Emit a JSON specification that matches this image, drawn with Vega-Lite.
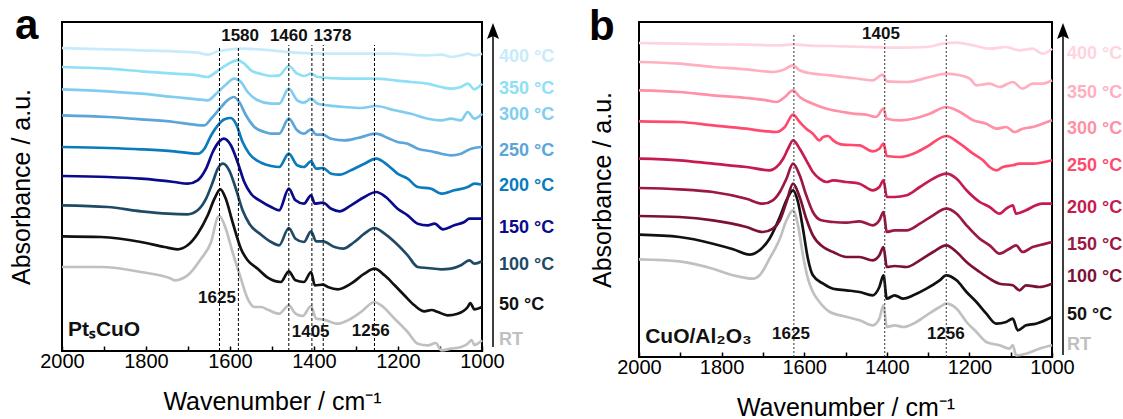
{
"$schema": "https://vega.github.io/schema/vega-lite/v6.json",
"padding": {"left": 8, "top": 4, "right": 0, "bottom": 0},
"spacing": 32,
"config": {"font": "Liberation Sans", "view": {"stroke": "black", "strokeWidth": 2}, "axis": {"grid": false, "domain": false, "labelFontSize": 20, "labelColor": "black", "titleFontSize": 25, "titleFontWeight": "normal", "titleColor": "black", "tickColor": "black", "tickWidth": 1.5}},
"resolve": {"scale": {"color": "independent", "x": "independent", "y": "independent"}},
"datasets": {
"ca": [
{"s":"RT","w":2000,"v":84},{"s":"RT","w":1907,"v":84},{"s":"RT","w":1812,"v":79},{"s":"RT","w":1740,"v":72.3},{"s":"RT","w":1733,"v":70.7},{"s":"RT","w":1701,"v":75.7},{"s":"RT","w":1669,"v":92.3},{"s":"RT","w":1645,"v":109},{"s":"RT","w":1629,"v":134},{"s":"RT","w":1625,"v":135},{"s":"RT","w":1610,"v":122.3},{"s":"RT","w":1594,"v":99},{"s":"RT","w":1574,"v":72.3},{"s":"RT","w":1558,"v":52.3},{"s":"RT","w":1542,"v":44},{"s":"RT","w":1526,"v":44},{"s":"RT","w":1510,"v":41.3},{"s":"RT","w":1483,"v":37.3},{"s":"RT","w":1460,"v":45.7},{"s":"RT","w":1444,"v":37.3},{"s":"RT","w":1427,"v":35},{"s":"RT","w":1407,"v":45},{"s":"RT","w":1395,"v":32.3},{"s":"RT","w":1379,"v":31.7},{"s":"RT","w":1343,"v":27.3},{"s":"RT","w":1312,"v":32.3},{"s":"RT","w":1288,"v":39},{"s":"RT","w":1256,"v":49},{"s":"RT","w":1240,"v":45.7},{"s":"RT","w":1208,"v":32.3},{"s":"RT","w":1177,"v":19},{"s":"RT","w":1153,"v":7.3},{"s":"RT","w":1129,"v":5.7},{"s":"RT","w":1110,"v":8},{"s":"RT","w":1097,"v":0.7},{"s":"RT","w":1074,"v":2.3},{"s":"RT","w":1050,"v":4},{"s":"RT","w":1034,"v":7.3},{"s":"RT","w":1025,"v":11},{"s":"RT","w":1018,"v":6},{"s":"RT","w":1000,"v":10.7},
{"s":"50 °C","w":2000,"v":114.7},{"s":"50 °C","w":1907,"v":114},{"s":"50 °C","w":1812,"v":109},{"s":"50 °C","w":1756,"v":104},{"s":"50 °C","w":1725,"v":101.7},{"s":"50 °C","w":1701,"v":105.7},{"s":"50 °C","w":1677,"v":117.3},{"s":"50 °C","w":1653,"v":135.7},{"s":"50 °C","w":1637,"v":152.3},{"s":"50 °C","w":1623,"v":161.7},{"s":"50 °C","w":1610,"v":152.3},{"s":"50 °C","w":1594,"v":129},{"s":"50 °C","w":1574,"v":102.3},{"s":"50 °C","w":1558,"v":90.7},{"s":"50 °C","w":1534,"v":82.3},{"s":"50 °C","w":1510,"v":73.3},{"s":"50 °C","w":1479,"v":69},{"s":"50 °C","w":1460,"v":79.7},{"s":"50 °C","w":1444,"v":70.7},{"s":"50 °C","w":1424,"v":69},{"s":"50 °C","w":1407,"v":79},{"s":"50 °C","w":1398,"v":65.7},{"s":"50 °C","w":1379,"v":66.3},{"s":"50 °C","w":1367,"v":64},{"s":"50 °C","w":1343,"v":61.7},{"s":"50 °C","w":1312,"v":67.3},{"s":"50 °C","w":1280,"v":77.3},{"s":"50 °C","w":1256,"v":82.3},{"s":"50 °C","w":1232,"v":75.7},{"s":"50 °C","w":1208,"v":65.7},{"s":"50 °C","w":1185,"v":55.7},{"s":"50 °C","w":1161,"v":45.7},{"s":"50 °C","w":1137,"v":39.7},{"s":"50 °C","w":1120,"v":41},{"s":"50 °C","w":1105,"v":39},{"s":"50 °C","w":1082,"v":35.7},{"s":"50 °C","w":1058,"v":37.3},{"s":"50 °C","w":1034,"v":44},{"s":"50 °C","w":1028,"v":48},{"s":"50 °C","w":1018,"v":41.7},{"s":"50 °C","w":1000,"v":44},
{"s":"100 °C","w":2000,"v":145.7},{"s":"100 °C","w":1891,"v":144},{"s":"100 °C","w":1812,"v":139.7},{"s":"100 °C","w":1748,"v":137.3},{"s":"100 °C","w":1701,"v":136.7},{"s":"100 °C","w":1677,"v":140.7},{"s":"100 °C","w":1657,"v":152.3},{"s":"100 °C","w":1641,"v":169},{"s":"100 °C","w":1629,"v":182.3},{"s":"100 °C","w":1617,"v":187.3},{"s":"100 °C","w":1602,"v":180.7},{"s":"100 °C","w":1586,"v":162.3},{"s":"100 °C","w":1570,"v":140.7},{"s":"100 °C","w":1554,"v":127.3},{"s":"100 °C","w":1526,"v":116.3},{"s":"100 °C","w":1502,"v":109},{"s":"100 °C","w":1483,"v":105.7},{"s":"100 °C","w":1460,"v":123},{"s":"100 °C","w":1444,"v":112.3},{"s":"100 °C","w":1424,"v":109},{"s":"100 °C","w":1407,"v":119.7},{"s":"100 °C","w":1395,"v":109.7},{"s":"100 °C","w":1379,"v":109.7},{"s":"100 °C","w":1351,"v":104},{"s":"100 °C","w":1331,"v":102.3},{"s":"100 °C","w":1304,"v":109},{"s":"100 °C","w":1280,"v":117.3},{"s":"100 °C","w":1256,"v":123},{"s":"100 °C","w":1232,"v":117.3},{"s":"100 °C","w":1208,"v":109},{"s":"100 °C","w":1177,"v":95.7},{"s":"100 °C","w":1153,"v":84},{"s":"100 °C","w":1129,"v":83},{"s":"100 °C","w":1097,"v":81.7},{"s":"100 °C","w":1074,"v":82.3},{"s":"100 °C","w":1050,"v":85.7},{"s":"100 °C","w":1030,"v":90.7},{"s":"100 °C","w":1018,"v":87.3},{"s":"100 °C","w":1000,"v":89.7},
{"s":"150 °C","w":2000,"v":175},{"s":"150 °C","w":1891,"v":174},{"s":"150 °C","w":1812,"v":172.3},{"s":"150 °C","w":1733,"v":169},{"s":"150 °C","w":1701,"v":167.3},{"s":"150 °C","w":1677,"v":170.7},{"s":"150 °C","w":1657,"v":182.3},{"s":"150 °C","w":1641,"v":199},{"s":"150 °C","w":1625,"v":209.7},{"s":"150 °C","w":1615,"v":212.3},{"s":"150 °C","w":1598,"v":205.7},{"s":"150 °C","w":1582,"v":189},{"s":"150 °C","w":1566,"v":169},{"s":"150 °C","w":1550,"v":157.3},{"s":"150 °C","w":1526,"v":149.7},{"s":"150 °C","w":1502,"v":144},{"s":"150 °C","w":1483,"v":140.7},{"s":"150 °C","w":1460,"v":162.3},{"s":"150 °C","w":1444,"v":150.7},{"s":"150 °C","w":1424,"v":147.3},{"s":"150 °C","w":1407,"v":155.7},{"s":"150 °C","w":1398,"v":147.3},{"s":"150 °C","w":1379,"v":148.3},{"s":"150 °C","w":1359,"v":142.3},{"s":"150 °C","w":1339,"v":139.7},{"s":"150 °C","w":1312,"v":145.7},{"s":"150 °C","w":1280,"v":154},{"s":"150 °C","w":1252,"v":159},{"s":"150 °C","w":1229,"v":154},{"s":"150 °C","w":1201,"v":142.3},{"s":"150 °C","w":1177,"v":135.7},{"s":"150 °C","w":1153,"v":127.3},{"s":"150 °C","w":1129,"v":125.7},{"s":"150 °C","w":1113,"v":127.3},{"s":"150 °C","w":1093,"v":121.7},{"s":"150 °C","w":1066,"v":125.7},{"s":"150 °C","w":1042,"v":129},{"s":"150 °C","w":1030,"v":132.3},{"s":"150 °C","w":1000,"v":132.3},
{"s":"200 °C","w":2000,"v":204},{"s":"200 °C","w":1891,"v":203},{"s":"200 °C","w":1812,"v":201.7},{"s":"200 °C","w":1733,"v":199.7},{"s":"200 °C","w":1677,"v":197.3},{"s":"200 °C","w":1661,"v":202.3},{"s":"200 °C","w":1645,"v":215.7},{"s":"200 °C","w":1629,"v":225.7},{"s":"200 °C","w":1613,"v":231.7},{"s":"200 °C","w":1598,"v":233},{"s":"200 °C","w":1586,"v":227.3},{"s":"200 °C","w":1570,"v":209},{"s":"200 °C","w":1554,"v":197.3},{"s":"200 °C","w":1526,"v":188.3},{"s":"200 °C","w":1502,"v":185},{"s":"200 °C","w":1483,"v":184},{"s":"200 °C","w":1460,"v":197.3},{"s":"200 °C","w":1440,"v":185.7},{"s":"200 °C","w":1424,"v":184},{"s":"200 °C","w":1407,"v":189.7},{"s":"200 °C","w":1395,"v":182.3},{"s":"200 °C","w":1379,"v":183},{"s":"200 °C","w":1359,"v":177.3},{"s":"200 °C","w":1339,"v":176.3},{"s":"200 °C","w":1312,"v":180.7},{"s":"200 °C","w":1280,"v":187.3},{"s":"200 °C","w":1252,"v":192.3},{"s":"200 °C","w":1224,"v":185.7},{"s":"200 °C","w":1201,"v":177.3},{"s":"200 °C","w":1177,"v":172.3},{"s":"200 °C","w":1153,"v":164},{"s":"200 °C","w":1121,"v":162.3},{"s":"200 °C","w":1097,"v":157.3},{"s":"200 °C","w":1066,"v":160.7},{"s":"200 °C","w":1034,"v":164},{"s":"200 °C","w":1018,"v":167.3},{"s":"200 °C","w":1000,"v":166.3},
{"s":"250 °C","w":2000,"v":235.7},{"s":"250 °C","w":1891,"v":234},{"s":"250 °C","w":1812,"v":231.7},{"s":"250 °C","w":1733,"v":229},{"s":"250 °C","w":1685,"v":226.3},{"s":"250 °C","w":1661,"v":225.7},{"s":"250 °C","w":1645,"v":232.3},{"s":"250 °C","w":1621,"v":244},{"s":"250 °C","w":1606,"v":250.7},{"s":"250 °C","w":1591,"v":254},{"s":"250 °C","w":1578,"v":249},{"s":"250 °C","w":1562,"v":235.7},{"s":"250 °C","w":1542,"v":224},{"s":"250 °C","w":1518,"v":219},{"s":"250 °C","w":1502,"v":217.3},{"s":"250 °C","w":1483,"v":217.3},{"s":"250 °C","w":1460,"v":232.3},{"s":"250 °C","w":1440,"v":220.7},{"s":"250 °C","w":1424,"v":217.3},{"s":"250 °C","w":1407,"v":221.7},{"s":"250 °C","w":1395,"v":216.3},{"s":"250 °C","w":1379,"v":216.3},{"s":"250 °C","w":1359,"v":212.3},{"s":"250 °C","w":1327,"v":210.7},{"s":"250 °C","w":1296,"v":213},{"s":"250 °C","w":1252,"v":217.3},{"s":"250 °C","w":1224,"v":213},{"s":"250 °C","w":1201,"v":209},{"s":"250 °C","w":1177,"v":207.3},{"s":"250 °C","w":1153,"v":202.3},{"s":"250 °C","w":1121,"v":199.7},{"s":"250 °C","w":1097,"v":197.3},{"s":"250 °C","w":1074,"v":195.7},{"s":"250 °C","w":1050,"v":197.3},{"s":"250 °C","w":1026,"v":202.3},{"s":"250 °C","w":1000,"v":204},
{"s":"300 °C","w":2000,"v":261.7},{"s":"300 °C","w":1891,"v":259.7},{"s":"300 °C","w":1812,"v":257.3},{"s":"300 °C","w":1733,"v":254},{"s":"300 °C","w":1677,"v":251.7},{"s":"300 °C","w":1653,"v":250.7},{"s":"300 °C","w":1633,"v":257.3},{"s":"300 °C","w":1610,"v":266.3},{"s":"300 °C","w":1590,"v":272.3},{"s":"300 °C","w":1574,"v":269},{"s":"300 °C","w":1558,"v":259},{"s":"300 °C","w":1534,"v":250.7},{"s":"300 °C","w":1502,"v":247.3},{"s":"300 °C","w":1483,"v":247.3},{"s":"300 °C","w":1460,"v":262.3},{"s":"300 °C","w":1440,"v":250.7},{"s":"300 °C","w":1424,"v":248.3},{"s":"300 °C","w":1407,"v":252.3},{"s":"300 °C","w":1391,"v":247.3},{"s":"300 °C","w":1367,"v":245.7},{"s":"300 °C","w":1327,"v":244},{"s":"300 °C","w":1288,"v":243},{"s":"300 °C","w":1252,"v":245},{"s":"300 °C","w":1208,"v":240.7},{"s":"300 °C","w":1169,"v":237.3},{"s":"300 °C","w":1129,"v":232.3},{"s":"300 °C","w":1097,"v":230.7},{"s":"300 °C","w":1074,"v":232.3},{"s":"300 °C","w":1050,"v":230.7},{"s":"300 °C","w":1034,"v":239},{"s":"300 °C","w":1018,"v":232.3},{"s":"300 °C","w":1000,"v":237.3},
{"s":"350 °C","w":2000,"v":284},{"s":"350 °C","w":1891,"v":282.3},{"s":"350 °C","w":1812,"v":279.7},{"s":"350 °C","w":1733,"v":277.3},{"s":"350 °C","w":1677,"v":275.7},{"s":"350 °C","w":1653,"v":274},{"s":"350 °C","w":1633,"v":279},{"s":"350 °C","w":1610,"v":285.7},{"s":"350 °C","w":1582,"v":290.7},{"s":"350 °C","w":1566,"v":287.3},{"s":"350 °C","w":1550,"v":280.7},{"s":"350 °C","w":1526,"v":277},{"s":"350 °C","w":1502,"v":275},{"s":"350 °C","w":1483,"v":275.7},{"s":"350 °C","w":1460,"v":285},{"s":"350 °C","w":1440,"v":277.3},{"s":"350 °C","w":1424,"v":275},{"s":"350 °C","w":1407,"v":277.3},{"s":"350 °C","w":1391,"v":274},{"s":"350 °C","w":1327,"v":272.3},{"s":"350 °C","w":1256,"v":272.3},{"s":"350 °C","w":1208,"v":270.7},{"s":"350 °C","w":1169,"v":269},{"s":"350 °C","w":1129,"v":267.3},{"s":"350 °C","w":1097,"v":264},{"s":"350 °C","w":1074,"v":262.3},{"s":"350 °C","w":1050,"v":264},{"s":"350 °C","w":1034,"v":267.3},{"s":"350 °C","w":1018,"v":261.7},{"s":"350 °C","w":1000,"v":267.3},
{"s":"400 °C","w":2000,"v":303},{"s":"400 °C","w":1891,"v":301.7},{"s":"400 °C","w":1812,"v":300.7},{"s":"400 °C","w":1733,"v":299.7},{"s":"400 °C","w":1677,"v":298.3},{"s":"400 °C","w":1653,"v":296.3},{"s":"400 °C","w":1629,"v":299.7},{"s":"400 °C","w":1598,"v":301.7},{"s":"400 °C","w":1574,"v":302.3},{"s":"400 °C","w":1502,"v":300.7},{"s":"400 °C","w":1447,"v":298.3},{"s":"400 °C","w":1367,"v":297.3},{"s":"400 °C","w":1288,"v":297.3},{"s":"400 °C","w":1208,"v":297.3},{"s":"400 °C","w":1169,"v":296.3},{"s":"400 °C","w":1129,"v":295.7},{"s":"400 °C","w":1097,"v":296.3},{"s":"400 °C","w":1074,"v":294},{"s":"400 °C","w":1050,"v":295.7},{"s":"400 °C","w":1034,"v":297.3},{"s":"400 °C","w":1018,"v":295.7},{"s":"400 °C","w":1000,"v":297.3}
],
"cb": [
{"s":"RT","w":2000,"v":97.7},{"s":"RT","w":1902,"v":95.7},{"s":"RT","w":1821,"v":88.3},{"s":"RT","w":1772,"v":81.7},{"s":"RT","w":1724,"v":78.3},{"s":"RT","w":1708,"v":81.7},{"s":"RT","w":1684,"v":98.3},{"s":"RT","w":1659,"v":118.3},{"s":"RT","w":1643,"v":136.7},{"s":"RT","w":1627,"v":146.7},{"s":"RT","w":1615,"v":131.7},{"s":"RT","w":1603,"v":101.7},{"s":"RT","w":1591,"v":78.3},{"s":"RT","w":1579,"v":65},{"s":"RT","w":1563,"v":55},{"s":"RT","w":1538,"v":45},{"s":"RT","w":1506,"v":41},{"s":"RT","w":1466,"v":36.7},{"s":"RT","w":1434,"v":31.7},{"s":"RT","w":1418,"v":38.3},{"s":"RT","w":1408,"v":51.7},{"s":"RT","w":1400,"v":30},{"s":"RT","w":1381,"v":31.7},{"s":"RT","w":1360,"v":30},{"s":"RT","w":1336,"v":33.3},{"s":"RT","w":1304,"v":41.7},{"s":"RT","w":1272,"v":50},{"s":"RT","w":1256,"v":53.3},{"s":"RT","w":1231,"v":48.3},{"s":"RT","w":1207,"v":35},{"s":"RT","w":1183,"v":25},{"s":"RT","w":1159,"v":15},{"s":"RT","w":1127,"v":11.7},{"s":"RT","w":1103,"v":8.3},{"s":"RT","w":1095,"v":12},{"s":"RT","w":1087,"v":1.7},{"s":"RT","w":1063,"v":3.3},{"s":"RT","w":1031,"v":8.3},{"s":"RT","w":1000,"v":11.7},
{"s":"50 °C","w":2000,"v":122.3},{"s":"50 °C","w":1902,"v":120},{"s":"50 °C","w":1821,"v":113.3},{"s":"50 °C","w":1772,"v":107.7},{"s":"50 °C","w":1732,"v":102.3},{"s":"50 °C","w":1708,"v":106.7},{"s":"50 °C","w":1684,"v":118.3},{"s":"50 °C","w":1659,"v":140},{"s":"50 °C","w":1643,"v":156.7},{"s":"50 °C","w":1627,"v":166.7},{"s":"50 °C","w":1615,"v":155},{"s":"50 °C","w":1603,"v":128.3},{"s":"50 °C","w":1591,"v":98.3},{"s":"50 °C","w":1579,"v":81.7},{"s":"50 °C","w":1554,"v":73.3},{"s":"50 °C","w":1530,"v":68.3},{"s":"50 °C","w":1498,"v":66.7},{"s":"50 °C","w":1466,"v":65},{"s":"50 °C","w":1434,"v":61.7},{"s":"50 °C","w":1418,"v":70},{"s":"50 °C","w":1408,"v":81.7},{"s":"50 °C","w":1400,"v":58.3},{"s":"50 °C","w":1381,"v":61.7},{"s":"50 °C","w":1360,"v":58.3},{"s":"50 °C","w":1336,"v":61.7},{"s":"50 °C","w":1304,"v":68.3},{"s":"50 °C","w":1272,"v":76.7},{"s":"50 °C","w":1256,"v":81.7},{"s":"50 °C","w":1231,"v":76.7},{"s":"50 °C","w":1207,"v":65},{"s":"50 °C","w":1183,"v":55},{"s":"50 °C","w":1159,"v":43.3},{"s":"50 °C","w":1135,"v":33.3},{"s":"50 °C","w":1111,"v":35},{"s":"50 °C","w":1095,"v":38.3},{"s":"50 °C","w":1083,"v":26.7},{"s":"50 °C","w":1063,"v":31.7},{"s":"50 °C","w":1039,"v":33.3},{"s":"50 °C","w":1000,"v":40},
{"s":"100 °C","w":2000,"v":141},{"s":"100 °C","w":1902,"v":140},{"s":"100 °C","w":1821,"v":136.7},{"s":"100 °C","w":1740,"v":130},{"s":"100 °C","w":1700,"v":125},{"s":"100 °C","w":1676,"v":128.3},{"s":"100 °C","w":1659,"v":136.7},{"s":"100 °C","w":1643,"v":155},{"s":"100 °C","w":1627,"v":173.3},{"s":"100 °C","w":1611,"v":160},{"s":"100 °C","w":1595,"v":138.3},{"s":"100 °C","w":1579,"v":121.7},{"s":"100 °C","w":1554,"v":110},{"s":"100 °C","w":1530,"v":105},{"s":"100 °C","w":1498,"v":100},{"s":"100 °C","w":1466,"v":100},{"s":"100 °C","w":1434,"v":96.7},{"s":"100 °C","w":1418,"v":101.7},{"s":"100 °C","w":1408,"v":110},{"s":"100 °C","w":1400,"v":90},{"s":"100 °C","w":1381,"v":91},{"s":"100 °C","w":1352,"v":90},{"s":"100 °C","w":1320,"v":96.7},{"s":"100 °C","w":1288,"v":105},{"s":"100 °C","w":1256,"v":111.7},{"s":"100 °C","w":1231,"v":105},{"s":"100 °C","w":1207,"v":95},{"s":"100 °C","w":1175,"v":85},{"s":"100 °C","w":1151,"v":78.3},{"s":"100 °C","w":1127,"v":73.3},{"s":"100 °C","w":1095,"v":71.7},{"s":"100 °C","w":1079,"v":66.7},{"s":"100 °C","w":1063,"v":71.7},{"s":"100 °C","w":1031,"v":70},{"s":"100 °C","w":1000,"v":73.3},
{"s":"150 °C","w":2000,"v":169},{"s":"150 °C","w":1902,"v":167.7},{"s":"150 °C","w":1821,"v":165},{"s":"150 °C","w":1740,"v":158.3},{"s":"150 °C","w":1700,"v":153.3},{"s":"150 °C","w":1676,"v":156.7},{"s":"150 °C","w":1659,"v":165},{"s":"150 °C","w":1643,"v":178.3},{"s":"150 °C","w":1627,"v":193.3},{"s":"150 °C","w":1611,"v":181.7},{"s":"150 °C","w":1595,"v":161.7},{"s":"150 °C","w":1579,"v":145},{"s":"150 °C","w":1559,"v":136.7},{"s":"150 °C","w":1530,"v":135},{"s":"150 °C","w":1498,"v":134.3},{"s":"150 °C","w":1466,"v":135.7},{"s":"150 °C","w":1434,"v":131.7},{"s":"150 °C","w":1418,"v":136.7},{"s":"150 °C","w":1408,"v":145},{"s":"150 °C","w":1400,"v":125},{"s":"150 °C","w":1381,"v":126.7},{"s":"150 °C","w":1352,"v":126.7},{"s":"150 °C","w":1320,"v":133.3},{"s":"150 °C","w":1288,"v":141.7},{"s":"150 °C","w":1256,"v":148.3},{"s":"150 °C","w":1231,"v":143.3},{"s":"150 °C","w":1207,"v":131.7},{"s":"150 °C","w":1175,"v":118.3},{"s":"150 °C","w":1151,"v":111.7},{"s":"150 °C","w":1127,"v":103.3},{"s":"150 °C","w":1103,"v":108.3},{"s":"150 °C","w":1087,"v":111.7},{"s":"150 °C","w":1071,"v":105},{"s":"150 °C","w":1047,"v":110},{"s":"150 °C","w":1031,"v":111.7},{"s":"150 °C","w":1000,"v":115},
{"s":"200 °C","w":2000,"v":198.3},{"s":"200 °C","w":1902,"v":196.7},{"s":"200 °C","w":1821,"v":193.3},{"s":"200 °C","w":1740,"v":190},{"s":"200 °C","w":1684,"v":186.7},{"s":"200 °C","w":1667,"v":190},{"s":"200 °C","w":1651,"v":198.3},{"s":"200 °C","w":1639,"v":208.3},{"s":"200 °C","w":1627,"v":216.7},{"s":"200 °C","w":1611,"v":208.3},{"s":"200 °C","w":1595,"v":196.7},{"s":"200 °C","w":1579,"v":185},{"s":"200 °C","w":1563,"v":178.3},{"s":"200 °C","w":1546,"v":175},{"s":"200 °C","w":1530,"v":176.7},{"s":"200 °C","w":1498,"v":175},{"s":"200 °C","w":1466,"v":173.3},{"s":"200 °C","w":1434,"v":166.7},{"s":"200 °C","w":1418,"v":170},{"s":"200 °C","w":1408,"v":176.7},{"s":"200 °C","w":1400,"v":160},{"s":"200 °C","w":1381,"v":160},{"s":"200 °C","w":1352,"v":161.7},{"s":"200 °C","w":1320,"v":170},{"s":"200 °C","w":1288,"v":178.3},{"s":"200 °C","w":1256,"v":183.3},{"s":"200 °C","w":1231,"v":178.3},{"s":"200 °C","w":1207,"v":166.7},{"s":"200 °C","w":1175,"v":155},{"s":"200 °C","w":1151,"v":150},{"s":"200 °C","w":1127,"v":143.3},{"s":"200 °C","w":1111,"v":148.3},{"s":"200 °C","w":1095,"v":151.7},{"s":"200 °C","w":1087,"v":143.3},{"s":"200 °C","w":1063,"v":146.7},{"s":"200 °C","w":1039,"v":151.7},{"s":"200 °C","w":1023,"v":153.3},{"s":"200 °C","w":1000,"v":153.3},
{"s":"250 °C","w":2000,"v":235.7},{"s":"250 °C","w":1902,"v":235},{"s":"250 °C","w":1821,"v":231.7},{"s":"250 °C","w":1740,"v":228.3},{"s":"250 °C","w":1692,"v":225.7},{"s":"250 °C","w":1667,"v":225},{"s":"250 °C","w":1647,"v":230},{"s":"250 °C","w":1627,"v":242.3},{"s":"250 °C","w":1611,"v":235},{"s":"250 °C","w":1595,"v":228.3},{"s":"250 °C","w":1579,"v":223.3},{"s":"250 °C","w":1563,"v":216.7},{"s":"250 °C","w":1554,"v":220},{"s":"250 °C","w":1542,"v":221},{"s":"250 °C","w":1530,"v":216.7},{"s":"250 °C","w":1506,"v":212.3},{"s":"250 °C","w":1466,"v":211.7},{"s":"250 °C","w":1434,"v":205.7},{"s":"250 °C","w":1418,"v":208.3},{"s":"250 °C","w":1408,"v":213.3},{"s":"250 °C","w":1400,"v":201},{"s":"250 °C","w":1369,"v":200},{"s":"250 °C","w":1336,"v":203.3},{"s":"250 °C","w":1304,"v":210},{"s":"250 °C","w":1256,"v":221},{"s":"250 °C","w":1223,"v":213.3},{"s":"250 °C","w":1191,"v":203.3},{"s":"250 °C","w":1167,"v":196.7},{"s":"250 °C","w":1151,"v":190},{"s":"250 °C","w":1135,"v":186.7},{"s":"250 °C","w":1119,"v":190},{"s":"250 °C","w":1095,"v":191.7},{"s":"250 °C","w":1079,"v":193.3},{"s":"250 °C","w":1047,"v":193.3},{"s":"250 °C","w":1000,"v":196.7},
{"s":"300 °C","w":2000,"v":266.7},{"s":"300 °C","w":1902,"v":265},{"s":"300 °C","w":1821,"v":261.7},{"s":"300 °C","w":1740,"v":259},{"s":"300 °C","w":1692,"v":256.7},{"s":"300 °C","w":1667,"v":255},{"s":"300 °C","w":1647,"v":260},{"s":"300 °C","w":1627,"v":266.7},{"s":"300 °C","w":1611,"v":260},{"s":"300 °C","w":1579,"v":253.3},{"s":"300 °C","w":1546,"v":248.3},{"s":"300 °C","w":1506,"v":245},{"s":"300 °C","w":1482,"v":243.3},{"s":"300 °C","w":1450,"v":242.3},{"s":"300 °C","w":1426,"v":240},{"s":"300 °C","w":1408,"v":248.3},{"s":"300 °C","w":1400,"v":238.3},{"s":"300 °C","w":1369,"v":236.7},{"s":"300 °C","w":1336,"v":238.3},{"s":"300 °C","w":1296,"v":243.3},{"s":"300 °C","w":1256,"v":250},{"s":"300 °C","w":1223,"v":245},{"s":"300 °C","w":1191,"v":236.7},{"s":"300 °C","w":1159,"v":233.3},{"s":"300 °C","w":1135,"v":228.3},{"s":"300 °C","w":1111,"v":230},{"s":"300 °C","w":1091,"v":225},{"s":"300 °C","w":1071,"v":228.3},{"s":"300 °C","w":1047,"v":230},{"s":"300 °C","w":1023,"v":233.3},{"s":"300 °C","w":1000,"v":236.7},
{"s":"350 °C","w":2000,"v":295},{"s":"350 °C","w":1902,"v":293.3},{"s":"350 °C","w":1821,"v":290},{"s":"350 °C","w":1740,"v":287.7},{"s":"350 °C","w":1676,"v":285},{"s":"350 °C","w":1647,"v":287.7},{"s":"350 °C","w":1627,"v":291.7},{"s":"350 °C","w":1611,"v":286.7},{"s":"350 °C","w":1579,"v":283.3},{"s":"350 °C","w":1538,"v":281.7},{"s":"350 °C","w":1506,"v":280},{"s":"350 °C","w":1482,"v":279},{"s":"350 °C","w":1434,"v":276.7},{"s":"350 °C","w":1410,"v":282.3},{"s":"350 °C","w":1400,"v":275.7},{"s":"350 °C","w":1352,"v":275},{"s":"350 °C","w":1296,"v":280},{"s":"350 °C","w":1256,"v":283.3},{"s":"350 °C","w":1223,"v":281.7},{"s":"350 °C","w":1199,"v":278.3},{"s":"350 °C","w":1183,"v":271.7},{"s":"350 °C","w":1151,"v":273.3},{"s":"350 °C","w":1127,"v":270},{"s":"350 °C","w":1095,"v":275},{"s":"350 °C","w":1071,"v":268.3},{"s":"350 °C","w":1047,"v":273.3},{"s":"350 °C","w":1023,"v":273.3},{"s":"350 °C","w":1000,"v":276.7},
{"s":"400 °C","w":2000,"v":314},{"s":"400 °C","w":1902,"v":313.3},{"s":"400 °C","w":1821,"v":312.7},{"s":"400 °C","w":1740,"v":312.3},{"s":"400 °C","w":1659,"v":311.7},{"s":"400 °C","w":1627,"v":312.7},{"s":"400 °C","w":1595,"v":311.7},{"s":"400 °C","w":1506,"v":310.7},{"s":"400 °C","w":1450,"v":310},{"s":"400 °C","w":1369,"v":309.3},{"s":"400 °C","w":1304,"v":310},{"s":"400 °C","w":1264,"v":313.3},{"s":"400 °C","w":1231,"v":314.3},{"s":"400 °C","w":1191,"v":311.7},{"s":"400 °C","w":1151,"v":308.3},{"s":"400 °C","w":1111,"v":310},{"s":"400 °C","w":1079,"v":306.7},{"s":"400 °C","w":1047,"v":308.3},{"s":"400 °C","w":1023,"v":303.3},{"s":"400 °C","w":1000,"v":308.3}
]
},
"hconcat": [
{
"width": 420, "height": 329,
"layer": [
{"data": {"name": "ca"}, "mark": {"type": "line", "strokeWidth": 2.7, "interpolate": "monotone"},
 "encoding": {
  "x": {"field": "w", "type": "quantitative", "scale": {"domain": [1000, 2000], "reverse": true, "nice": false, "zero": false},
        "axis": {"title": "Wavenumber / cm⁻¹", "values": [1000,1100,1200,1300,1400,1500,1600,1700,1800,1900,2000], "format": "d", "labelExpr": "datum.value % 200 == 0 ? datum.label : ''", "tickSize": -5, "labelPadding": 5, "titlePadding": 18, "labelFlush": false, "labelOverlap": false}},
  "y": {"field": "v", "type": "quantitative", "scale": {"domain": [0, 329], "nice": false, "zero": false},
        "axis": {"title": "Absorbance / a.u.", "labels": false, "ticks": false, "titlePadding": 28}},
  "color": {"field": "s", "type": "nominal", "legend": null, "scale": {"domain": ["RT","50 °C","100 °C","150 °C","200 °C","250 °C","300 °C","350 °C","400 °C"], "range": ["#c0c0c0","#111111","#1e4a66","#0a0a8c","#0a7bbd","#5aa5da","#80cdf0","#8ee0f5","#c6ecfb"]}}
 }},
{"data": {"values": [{"w":1625,"v":0,"v2":305},{"w":1580,"v":0,"v2":305},{"w":1460,"v":0,"v2":306},{"w":1405,"v":0,"v2":306},{"w":1378,"v":0,"v2":306},{"w":1256,"v":0,"v2":306}]},
 "mark": {"type": "rule", "strokeDash": [3, 2], "strokeWidth": 1, "color": "black"},
 "encoding": {"x": {"field": "w", "type": "quantitative"}, "y": {"field": "v", "type": "quantitative"}, "y2": {"field": "v2"}}},
{"data": {"values": [{"w":1576,"v":315,"t":"1580"},{"w":1460,"v":315,"t":"1460"},{"w":1356,"v":315,"t":"1378"},{"w":1631,"v":53,"t":"1625"},{"w":1408,"v":19,"t":"1405"},{"w":1265,"v":20,"t":"1256"}]},
 "mark": {"type": "text", "fontSize": 17, "fontWeight": "bold", "baseline": "middle", "align": "center", "color": "#111"},
 "encoding": {"x": {"field": "w", "type": "quantitative"}, "y": {"field": "v", "type": "quantitative"}, "text": {"field": "t"}}},
{"data": {"values": [{"w":1986,"v":21,"t":"PtₛCuO"}]},
 "mark": {"type": "text", "fontSize": 21, "fontWeight": "bold", "baseline": "middle", "align": "left", "color": "#111"},
 "encoding": {"x": {"field": "w", "type": "quantitative"}, "y": {"field": "v", "type": "quantitative"}, "text": {"field": "t"}}},
{"data": {"values": [{"w":2000,"v":329,"t":"a"}]},
 "mark": {"type": "text", "fontSize": 42, "fontWeight": "bold", "baseline": "alphabetic", "align": "left", "color": "black", "dx": -47, "dy": 17},
 "encoding": {"x": {"field": "w", "type": "quantitative"}, "y": {"field": "v", "type": "quantitative"}, "text": {"field": "t"}}},
{"data": {"values": [{"s":"400 °C","w":1000,"v":294},{"s":"350 °C","w":1000,"v":262},{"s":"300 °C","w":1000,"v":236},{"s":"250 °C","w":1000,"v":200},{"s":"200 °C","w":1000,"v":165},{"s":"150 °C","w":1000,"v":123},{"s":"100 °C","w":1000,"v":86},{"s":"50 °C","w":1000,"v":46},{"s":"RT","w":1000,"v":11}]},
 "mark": {"type": "text", "fontSize": 18, "fontWeight": "bold", "baseline": "middle", "align": "left", "dx": 17},
 "encoding": {"x": {"field": "w", "type": "quantitative"}, "y": {"field": "v", "type": "quantitative"}, "text": {"field": "s"}, "color": {"field": "s", "type": "nominal", "legend": null}}},
{"data": {"values": [{"w":1000,"v":4,"v2":316}]},
 "mark": {"type": "rule", "strokeWidth": 1.5, "color": "black", "xOffset": 11},
 "encoding": {"x": {"field": "w", "type": "quantitative"}, "y": {"field": "v", "type": "quantitative"}, "y2": {"field": "v2"}}},
{"data": {"values": [{"w":1000,"v":320}]},
 "mark": {"type": "point", "shape": "M0,-0.8L0.6,0.8L0,0.5L-0.6,0.8Z", "size": 400, "filled": true, "opacity": 1, "color": "black", "xOffset": 11},
 "encoding": {"x": {"field": "w", "type": "quantitative"}, "y": {"field": "v", "type": "quantitative"}}}
]
},
{
"width": 413, "height": 335,
"layer": [
{"data": {"name": "cb"}, "mark": {"type": "line", "strokeWidth": 2.7, "interpolate": "monotone"},
 "encoding": {
  "x": {"field": "w", "type": "quantitative", "scale": {"domain": [1000, 2000], "reverse": true, "nice": false, "zero": false},
        "axis": {"title": "Wavenumber / cm⁻¹", "values": [1000,1100,1200,1300,1400,1500,1600,1700,1800,1900,2000], "format": "d", "labelExpr": "datum.value % 200 == 0 ? datum.label : ''", "tickSize": -5, "labelPadding": 5, "titlePadding": 18, "labelFlush": false, "labelOverlap": false}},
  "y": {"field": "v", "type": "quantitative", "scale": {"domain": [0, 335], "nice": false, "zero": false},
        "axis": {"title": "Absorbance / a.u.", "labels": false, "ticks": false, "titlePadding": 24}},
  "color": {"field": "s", "type": "nominal", "legend": null, "scale": {"domain": ["RT","50 °C","100 °C","150 °C","200 °C","250 °C","300 °C","350 °C","400 °C"], "range": ["#c0c0c0","#111111","#7d1038","#9c1745","#c51b4f","#ff4a6e","#ff90a5","#ffafbf","#ffd4de"]}}
 }},
{"data": {"values": [{"w":1625,"v":0,"v2":323},{"w":1405,"v":0,"v2":317},{"w":1256,"v":0,"v2":323}]},
 "mark": {"type": "rule", "strokeDash": [2, 2], "strokeWidth": 1, "color": "#333"},
 "encoding": {"x": {"field": "w", "type": "quantitative"}, "y": {"field": "v", "type": "quantitative"}, "y2": {"field": "v2"}}},
{"data": {"values": [{"w":1414,"v":323,"t":"1405"},{"w":1632,"v":23,"t":"1625"},{"w":1257,"v":23,"t":"1256"}]},
 "mark": {"type": "text", "fontSize": 17, "fontWeight": "bold", "baseline": "middle", "align": "center", "color": "#111"},
 "encoding": {"x": {"field": "w", "type": "quantitative"}, "y": {"field": "v", "type": "quantitative"}, "text": {"field": "t"}}},
{"data": {"values": [{"w":1985,"v":20,"t":"CuO/Al₂O₃"}]},
 "mark": {"type": "text", "fontSize": 21, "fontWeight": "bold", "baseline": "middle", "align": "left", "color": "#111"},
 "encoding": {"x": {"field": "w", "type": "quantitative"}, "y": {"field": "v", "type": "quantitative"}, "text": {"field": "t"}}},
{"data": {"values": [{"w":2000,"v":335,"t":"b"}]},
 "mark": {"type": "text", "fontSize": 42, "fontWeight": "bold", "baseline": "alphabetic", "align": "left", "color": "black", "dx": -50, "dy": 18},
 "encoding": {"x": {"field": "w", "type": "quantitative"}, "y": {"field": "v", "type": "quantitative"}, "text": {"field": "t"}}},
{"data": {"values": [{"s":"400 °C","w":1000,"v":303},{"s":"350 °C","w":1000,"v":264},{"s":"300 °C","w":1000,"v":228},{"s":"250 °C","w":1000,"v":191},{"s":"200 °C","w":1000,"v":149},{"s":"150 °C","w":1000,"v":112},{"s":"100 °C","w":1000,"v":80},{"s":"50 °C","w":1000,"v":42},{"s":"RT","w":1000,"v":12}]},
 "mark": {"type": "text", "fontSize": 18, "fontWeight": "bold", "baseline": "middle", "align": "left", "dx": 15},
 "encoding": {"x": {"field": "w", "type": "quantitative"}, "y": {"field": "v", "type": "quantitative"}, "text": {"field": "s"}, "color": {"field": "s", "type": "nominal", "legend": null}}},
{"data": {"values": [{"w":1000,"v":2,"v2":322}]},
 "mark": {"type": "rule", "strokeWidth": 1.5, "color": "black", "xOffset": 11},
 "encoding": {"x": {"field": "w", "type": "quantitative"}, "y": {"field": "v", "type": "quantitative"}, "y2": {"field": "v2"}}},
{"data": {"values": [{"w":1000,"v":326}]},
 "mark": {"type": "point", "shape": "M0,-0.8L0.6,0.8L0,0.5L-0.6,0.8Z", "size": 400, "filled": true, "opacity": 1, "color": "black", "xOffset": 11},
 "encoding": {"x": {"field": "w", "type": "quantitative"}, "y": {"field": "v", "type": "quantitative"}}}
]
}
]
}
